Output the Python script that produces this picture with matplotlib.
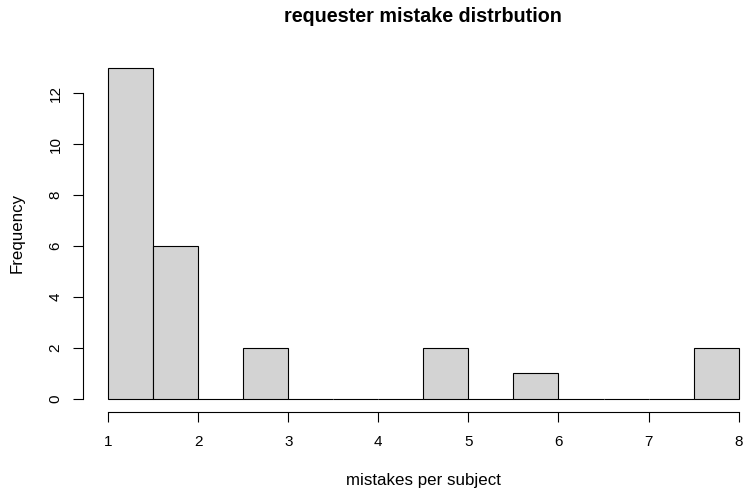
import matplotlib
matplotlib.use("Agg")
import matplotlib.pyplot as plt

plt.rcParams['font.family'] = ['Liberation Sans', 'DejaVu Sans']

# histogram bins (left edges) and counts
bin_left = [1.0, 1.5, 2.0, 2.5, 3.0, 3.5, 4.0, 4.5, 5.0, 5.5, 6.0, 6.5, 7.0, 7.5]
counts = [13, 6, 0, 2, 0, 0, 0, 2, 0, 1, 0, 0, 0, 2]
bin_width = 0.5
x_ticks = [1, 2, 3, 4, 5, 6, 7, 8]
y_ticks = [0, 2, 4, 6, 8, 10, 12]

W, H = 743, 488
fig = plt.figure(figsize=(W / 100, H / 100), dpi=100)

# plot region in pixels (R style, 4% padding around data range)
left, right, top, bottom = 82.8, 763.9, 54.6, 412.2
ax = fig.add_axes([left / W, 1 - bottom / H, (right - left) / W, (bottom - top) / H])

ax.bar(bin_left, counts, width=bin_width, align='edge',
       color='#D3D3D3', edgecolor='black', linewidth=0.8)

ax.set_xlim(0.72, 8.28)
ax.set_ylim(-0.52, 13.52)

for s in ['top', 'right']:
    ax.spines[s].set_visible(False)
ax.spines['left'].set_bounds(0, 12)
ax.spines['bottom'].set_bounds(1, 8)
for s in ['left', 'bottom']:
    ax.spines[s].set_linewidth(0.8)

ax.set_xticks(x_ticks)
ax.set_yticks(y_ticks)
ax.set_yticklabels([str(v) for v in y_ticks], rotation=90, va='center')
ax.tick_params(axis='both', length=7.5, width=0.8, labelsize=11, color='black')
ax.tick_params(axis='x', pad=9)
ax.tick_params(axis='y', pad=7)

fig.text(423 / W, 1 - 17 / H, 'requester mistake distrbution', ha='center', va='center',
         fontsize=14.2, fontweight='bold')
fig.text(423 / W, 1 - 481 / H, 'mistakes per subject', ha='center', va='center', fontsize=12.2)
fig.text(17 / W, 1 - 233 / H, 'Frequency', ha='center', va='center', rotation=90, fontsize=12.2)

fig.savefig('out.png', dpi=100)
